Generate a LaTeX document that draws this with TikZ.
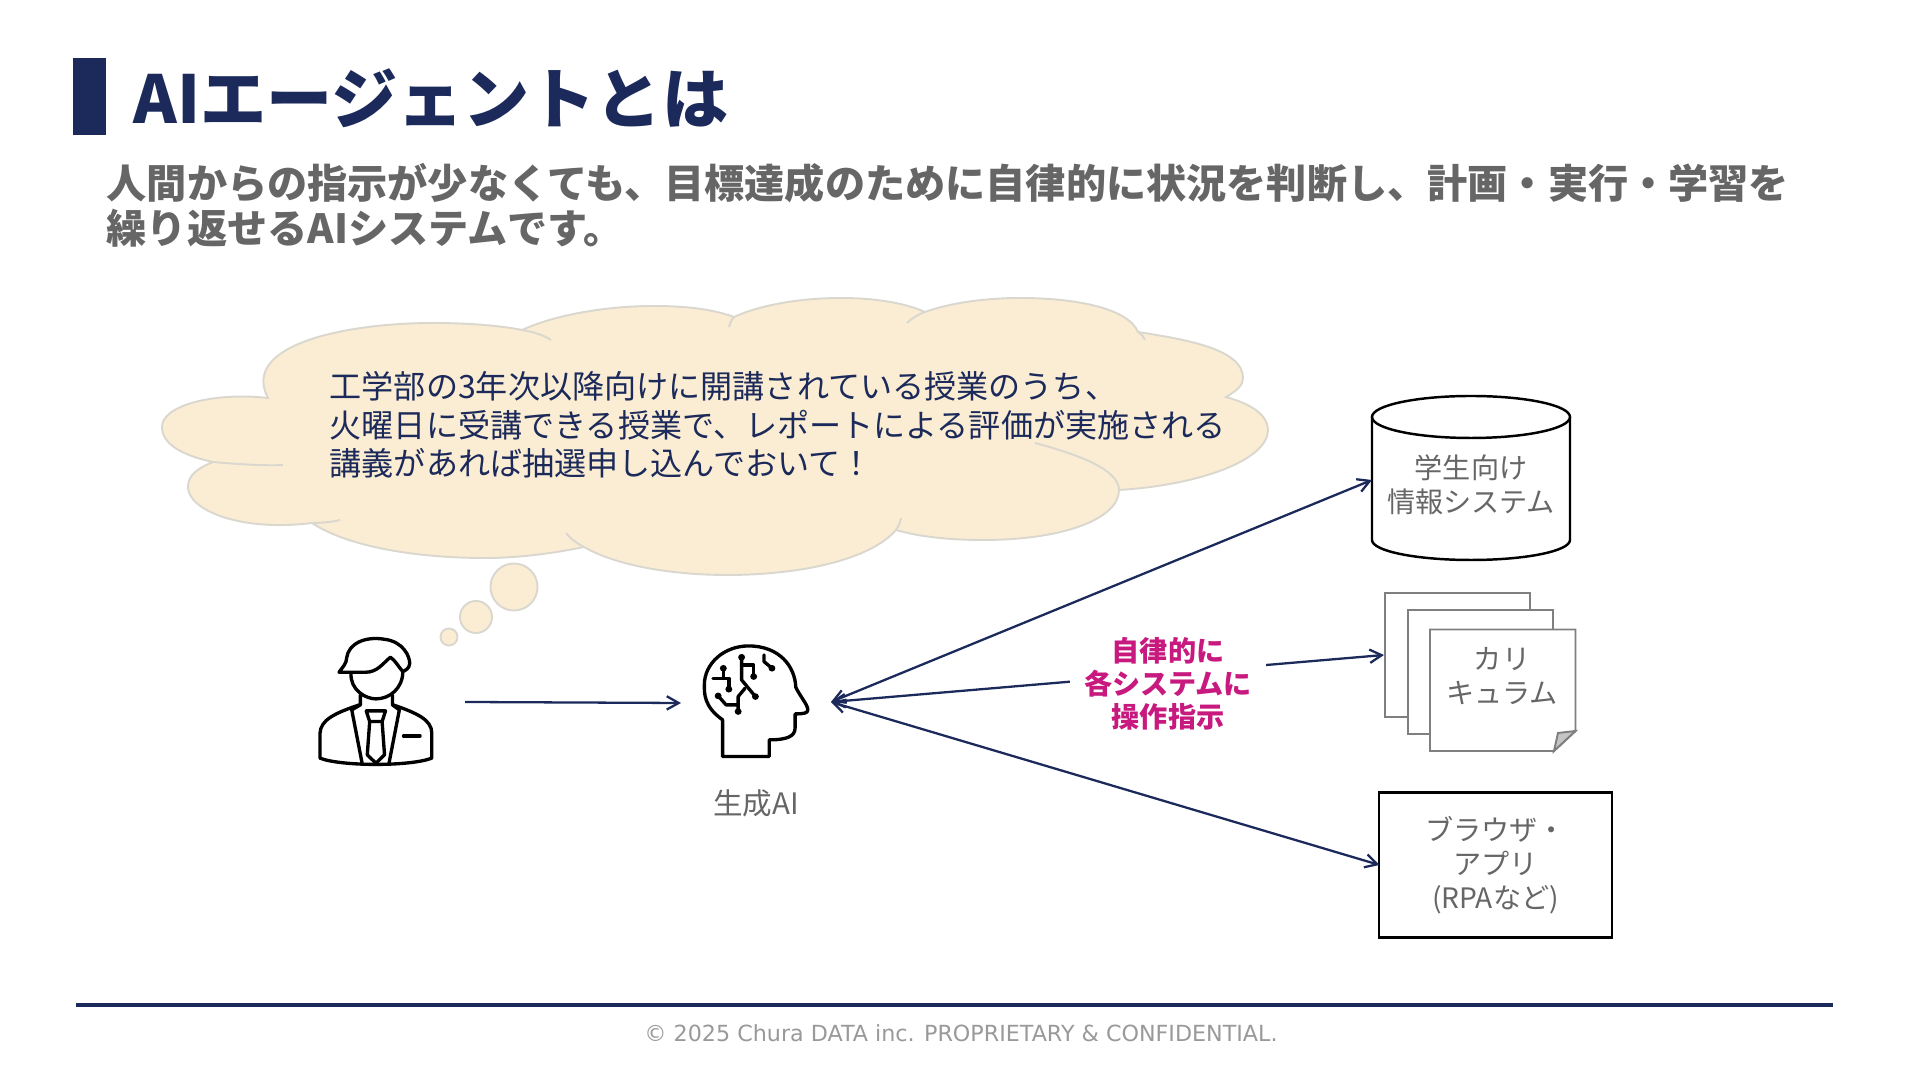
\documentclass[tikz,border=0pt]{standalone}
\usepackage{fontspec}
\setmainfont{Noto Sans CJK JP}
\newfontfamily\footfont{DejaVu Sans}
\usetikzlibrary{arrows.meta}
\definecolor{navy}{HTML}{1B2A5B}
\definecolor{textgray}{HTML}{666666}
\definecolor{cloudfill}{HTML}{FBEDD3}
\definecolor{cloudline}{HTML}{DAD7CF}
\definecolor{accent}{HTML}{C8197F}
\definecolor{docline}{HTML}{7F7F7F}
\tikzset{
  sys/.style={text=textgray,align=center,font=\fontsize{8}{9.7}\selectfont},
  flow/.style={draw=navy,line width=0.65pt},
  iconline/.style={draw=black,line width=0.95pt,line join=round,line cap=round},
  puff/.style={fill=cloudfill,draw=cloudline,line width=0.55pt},
  docbox/.style={draw=docline,fill=white,line width=0.55pt,minimum width=1.45cm,minimum height=1.235cm}
}
\begin{document}
\begin{tikzpicture}[x=0.01cm,y=-0.01cm,>={Straight Barb[length=3.4pt,width=3.8pt]}]
  \useasboundingbox (0,0) rectangle (1920,1080);
  % heading
  \fill[navy] (73,58) rectangle (106,135);
  \node[anchor=west,inner sep=0pt,text=navy,font=\fontsize{18.8}{22}\selectfont\bfseries] (title) at (133,98) {AIエージェントとは};
  \node[anchor=north west,inner sep=0pt,align=left,text=textgray,font=\fontsize{11.42}{12.8}\selectfont\bfseries] (intro) at (106,163)
    {人間からの指示が少なくても、目標達成のために自律的に状況を判断し、計画・実行・学習を\\繰り返せるAIシステムです。};
  % cloud
  \draw[puff] (268,398) .. controls (240,345) and (345,323) .. (433,323)
    .. controls (470,323) and (503,326) .. (522,330)
    .. controls (555,315) and (605,306) .. (654,306)
    .. controls (690,306) and (715,310) .. (734,317)
    .. controls (760,305) and (800,298) .. (841,298)
    .. controls (875,298) and (905,303) .. (925,312)
    .. controls (950,303) and (985,298) .. (1020,298)
    .. controls (1075,298) and (1128,308) .. (1138,332)
    .. controls (1190,340) and (1243,350) .. (1243,378)
    .. controls (1243,385) and (1238,390) .. (1226,397)
    .. controls (1255,405) and (1268,417) .. (1268,430)
    .. controls (1268,460) and (1200,485) .. (1119,490)
    .. controls (1119,520) and (1060,540) .. (984,540)
    .. controls (950,540) and (920,537) .. (896,530)
    .. controls (870,560) and (800,575) .. (727,575)
    .. controls (670,575) and (615,565) .. (584,547)
    .. controls (555,553) and (520,558) .. (485,558)
    .. controls (410,558) and (345,545) .. (312,523)
    .. controls (240,532) and (188,510) .. (188,487)
    .. controls (188,475) and (198,468) .. (213,462)
    .. controls (180,455) and (162,443) .. (162,427)
    .. controls (162,405) and (215,392) .. (268,398) -- cycle;
  \draw[cloudline,line width=0.55pt] (522,330) .. controls (535,332) and (545,336) .. (551,340);
  \draw[cloudline,line width=0.55pt] (734,317) .. controls (731,320) and (730,324) .. (729,327);
  \draw[cloudline,line width=0.55pt] (925,312) .. controls (917,315) and (911,319) .. (907,323);
  \draw[cloudline,line width=0.55pt] (1138,332) .. controls (1142,335) and (1144,337) .. (1145,340);
  \draw[cloudline,line width=0.55pt] (1119,490) .. controls (1119,470) and (1080,455) .. (1035,443);
  \draw[cloudline,line width=0.55pt] (896,530) .. controls (899,526) and (900,522) .. (901,518);
  \draw[cloudline,line width=0.55pt] (584,547) .. controls (576,543) and (570,538) .. (566,533);
  \draw[cloudline,line width=0.55pt] (312,523) .. controls (322,523) and (332,522) .. (340,520);
  \draw[cloudline,line width=0.55pt] (213,462) .. controls (235,464) and (265,466) .. (283,465);
  \node[puff,circle,inner sep=0pt,minimum size=0.47cm] (puffa) at (514,587) {};
  \node[puff,circle,inner sep=0pt,minimum size=0.32cm] (puffb) at (476,617) {};
  \node[puff,circle,inner sep=0pt,minimum size=0.17cm] (puffc) at (449,637) {};
  \node[anchor=west,inner sep=0pt,align=left,text=navy,font=\fontsize{9.13}{10.95}\selectfont] (ask) at (329,425)
    {工学部の3年次以降向けに開講されている授業のうち、\\火曜日に受講できる授業で、レポートによる評価が実施される\\講義があれば抽選申し込んでおいて！};
  % person
  \begin{scope}[shift={(300,600)},xscale=0.345,yscale=0.333,iconline]
    \draw (113,217) .. controls (125,200) and (135,190) .. (135,175) .. controls (140,130) and (190,108) .. (245,118)
      .. controls (300,125) and (318,170) .. (318,190) .. controls (318,205) and (305,212) .. (298,215)
      .. controls (285,200) and (275,180) .. (262,172) .. controls (240,190) and (225,217) .. (190,217) -- cycle;
    \draw (148,220) .. controls (145,270) and (190,297) .. (220,297) .. controls (260,297) and (298,265) .. (298,215);
    \draw (175,285) -- (175,315) -- (150,330) -- (180,490);
    \draw (268,285) -- (268,315) -- (288,330) -- (258,490);
    \draw (172,315) .. controls (100,340) and (60,360) .. (58,400) -- (58,475) .. controls (120,500) and (320,500) .. (382,475) -- (382,400) .. controls (382,360) and (340,340) .. (270,315);
    \draw (192,333) -- (248,333) -- (238,365) -- (202,365) -- cycle;
    \draw (202,365) -- (195,465) -- (220,490) -- (245,465) -- (238,365);
    \draw (300,408) -- (348,408);
  \end{scope}
  % brain head
  \begin{scope}[shift={(300,600)},xscale=0.345,yscale=0.333,iconline]
    \draw (1225,470) -- (1225,360) .. controls (1170,320) and (1172,280) .. (1172,255)
      .. controls (1172,190) and (1230,138) .. (1300,138) .. controls (1390,138) and (1435,200) .. (1437,262)
      .. controls (1450,290) and (1472,315) .. (1472,330) .. controls (1472,340) and (1460,342) .. (1435,342)
      -- (1435,385) .. controls (1435,410) and (1410,420) .. (1360,420) -- (1360,470) -- cycle;
    \draw (1280,172) -- (1280,240) -- (1320,290);
    \draw (1280,195) -- (1315,195) -- (1315,230);
    \draw (1290,265) -- (1270,290) -- (1270,335);
    \draw (1270,315) -- (1235,315) -- (1212,288);
    \draw (1227,205) -- (1227,235);
    \draw (1197,235) -- (1243,235) -- (1243,268);
    \draw (1345,165) -- (1345,185) -- (1368,205);
    \foreach \px/\py in {1280/172,1320/290,1315/230,1270/335,1212/288,1227/205,1243/268,1368/205}
      \fill (\px,\py) circle (10);
  \end{scope}
  \node[sys,font=\fontsize{8.4}{9.7}\selectfont] (genai) at (756,803) {生成AI};
  \coordinate (userout) at (465,702);
  \coordinate (brainin) at (681,703);
  \coordinate (hub) at (831,702);
  % systems
  \node[outer sep=0pt,inner sep=0pt,minimum width=1.98cm,minimum height=1.64cm] (db) at (1471,480) {};
  \draw[black,line width=0.7pt] (1372,417) -- (1372,540) .. controls (1372,551) and (1416,560) .. (1471,560) .. controls (1526,560) and (1570,551) .. (1570,540) -- (1570,417);
  \draw[black,line width=0.7pt] (1471,417) ellipse [x radius=99,y radius=21];
  \node[sys] (dbtext) at (1471,485) {学生向け\\情報システム};
  \node[docbox] (docback) at (1457.5,655) {};
  \node[docbox] (docmid) at (1480.5,672) {};
  \draw[draw=docline,fill=white,line width=0.55pt] (1430,629.5) -- (1575.5,629.5) -- (1575.5,731) -- (1554,751) -- (1430,751) -- cycle;
  \draw[draw=docline,fill=docline!45,line width=0.55pt] (1575.5,731) -- (1558,733) -- (1554,751) -- cycle;
  \node[sys] (docs) at (1502,676) {カリ\\キュラム};
  \node[draw=black,line width=0.6pt,outer sep=0pt,minimum width=2.32cm,minimum height=1.45cm,sys] (browser) at (1495.5,865) {ブラウザ・\\アプリ\\(RPAなど)};
  % arrows
  \draw[flow,->] (userout) -- (brainin);
  \draw[flow,<->] (hub) -- (db.west);
  \draw[flow,<->] (hub) -- (docback.west);
  \draw[flow,<->] (hub) -- (browser.west);
  \node[fill=white,inner xsep=4pt,inner ysep=0pt,align=center,text=accent,font=\fontsize{8}{9.4}\selectfont\bfseries] (order) at (1168,684) {自律的に\\各システムに\\操作指示};
  % footer
  \draw[navy,line width=1pt] (76,1005) -- (1833,1005);
  \node[text=black!40,font=\footfont\fontsize{6.32}{7.5}\selectfont] (copyright) at (961,1033) {© 2025 Chura DATA inc. PROPRIETARY \& CONFIDENTIAL.};
\end{tikzpicture}
\end{document}
